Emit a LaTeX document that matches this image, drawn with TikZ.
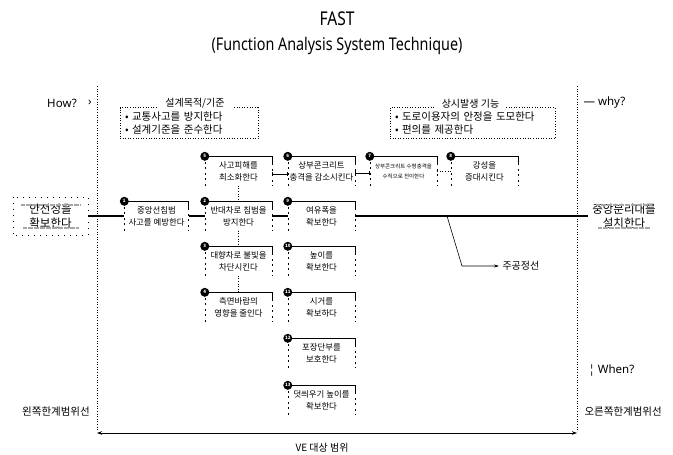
\documentclass[tikz,border=0pt]{standalone}
\usepackage{fontspec}
\setmainfont{Noto Sans CJK KR}
\newfontfamily\latf[FakeStretch=0.82]{Noto Sans}
\newfontfamily\latn{Noto Sans}
\usetikzlibrary{arrows.meta}
\tikzset{
  fn/.style={minimum width=67, minimum height=29, inner sep=0pt, align=center,
             font=\fontsize{8.4}{12}\selectfont},
  badge/.style={circle, fill=black, text=white, inner sep=0pt, minimum size=9pt,
             font=\fontsize{4.5}{5}\selectfont\bfseries},
  topedge/.style={line width=0.7pt},
  sideedge/.style={line width=0.5pt, dash pattern=on 2pt off 3.5pt},
  mainline/.style={line width=2.6pt},
  dotcon/.style={line width=0.6pt, dotted},
  guide/.style={line width=0.6pt, dotted},
  infobox/.style={draw, line width=0.6pt, dotted, minimum height=31, inner xsep=5pt,
             align=left, font=\fontsize{10.5}{13}\selectfont},
  boxtitle/.style={fill=white, inner xsep=7pt, inner ysep=1pt, font=\fontsize{10}{12}\selectfont},
  endnode/.style={inner sep=0pt, minimum height=28, align=center,
             font=\fontsize{11.5}{13.5}\selectfont},
  label/.style={font=\fontsize{10.5}{12}\selectfont},
  latlabel/.style={font=\latn\fontsize{11.5}{13}\selectfont}
}
\newcommand\fastdeco[2]{%
  \draw[topedge] (#1.north west) -- (#1.north east) -- ++(0,7);
  \draw[sideedge] (#1.north west) -- (#1.south west);
  \draw[sideedge] ([yshift=-7pt]#1.north east) -- (#1.south east);
  \node[badge] at (#1.north west) {#2};
}
\begin{document}
\begin{tikzpicture}[x=1pt,y=-1pt]
\useasboundingbox (0,0) rectangle (673,455);

% titles
\node[font=\latf\fontsize{19}{21}\selectfont] (title) at (337,19) {FAST};
\node[font=\latf\fontsize{17.5}{20}\selectfont] (subtitle) at (337,46) {(Function Analysis System Technique)};

% guide lines
\coordinate (gl1) at (97,86);
\coordinate (gl2) at (97,430);
\coordinate (gr1) at (577,86);
\coordinate (gr2) at (577,430);
\draw[guide] (gl1) -- (gl2);
\draw[guide] (gr1) -- (gr2);

% side labels
\node[latlabel] (how) at (62,103) {How?};
\node[latlabel] (howarr) at (90,103) {›};
\node[latlabel, anchor=west] (why) at (580,103) {— why?};
\node[latlabel, anchor=west] (when) at (585,371) {¦ When?};
\node[label] (lline) at (56,412) {왼쪽한계범위선};
\node[label, anchor=west] (rline) at (581,412) {오른쪽한계범위선};

% info boxes
\node[infobox, text width=128] (bx1) at (189,123) {• 교통사고를 방지한다\\• 설계기준을 준수한다};
\node[boxtitle, anchor=south] (bt1) at ([xshift=6pt,yshift=-2pt]bx1.north) {설계목적/기준};
\node[infobox, text width=155] (bx2) at (472.5,123) {• 도로이용자의 안정을 도모한다\\• 편의를 제공한다};
\node[boxtitle, anchor=south] (bt2) at ([xshift=-2pt,yshift=-2pt]bx2.north) {상시발생 기능};

% end nodes
\node[endnode, minimum width=75] (L) at (50.5,216) {안전성을\\확보한다};
\node[endnode, minimum width=72] (R) at (624,216) {중앙분리대를\\설치한다};
\foreach \n in {L,R}{
  \draw[gray!70, line width=2pt, dash pattern=on 0.6pt off 0.6pt]
    ([xshift=8pt,yshift=-3pt]\n.north west) -- ([xshift=-8pt,yshift=-3pt]\n.north east);
  \draw[gray!70, line width=2pt, dash pattern=on 0.6pt off 0.6pt]
    ([xshift=10pt,yshift=2pt]\n.south west) -- ([xshift=-10pt,yshift=2pt]\n.south east);
}
\draw[line width=0.5pt, dash pattern=on 1pt off 5pt] ([yshift=5pt]L.north west) rectangle ([yshift=-5pt]L.south east);

% function nodes
\node[fn, minimum width=64] (n1) at (156.5,216) {중앙선침범\\사고를 예방한다};
\node[fn] (n2) at (238.5,216) {반대차로 침범을\\방지한다};
\node[fn] (n3) at (238.5,261) {대향차로 불빛을\\차단시킨다};
\node[fn] (n4) at (238.5,307) {측면바람의\\영향을 줄인다};
\node[fn] (n5) at (238.5,171) {사고피해를\\최소화한다};
\node[fn] (n6) at (321.5,171) {상부콘크리트\\충격을 감소시킨다};
\node[fn, font=\fontsize{5.5}{10}\selectfont] (n7) at (403.5,171) {상부콘크리트 수평충격을\\수직으로 전이한다};
\node[fn] (n8) at (484.5,171) {강성을\\증대시킨다};
\node[fn] (n9) at (321.5,216) {여유폭을\\확보한다};
\node[fn] (n10) at (321.5,261) {높이를\\확보한다};
\node[fn] (n11) at (321.5,307) {시거를\\확보하다};
\node[fn] (n12) at (321.5,353) {포장단부를\\보호한다};
\node[fn] (n13) at (321.5,400) {덧씌우기 높이를\\확보한다};

% main line
\draw[mainline] (L.east) -- (n1.west);
\draw[mainline] (n1.east) -- (n2.west);
\draw[mainline] (n2.east) -- (n9.west);
\draw[mainline] (n9.east) -- (R.west);

% node decorations
\fastdeco{n1}{1}
\fastdeco{n2}{2}
\fastdeco{n3}{3}
\fastdeco{n4}{4}
\fastdeco{n5}{5}
\fastdeco{n6}{6}
\fastdeco{n7}{7}
\fastdeco{n8}{8}
\fastdeco{n9}{9}
\fastdeco{n10}{10}
\fastdeco{n11}{11}
\fastdeco{n12}{12}
\fastdeco{n13}{13}

% secondary connectors
\draw[dotcon] (n5.south) -- (n2.north);
\draw[dotcon] (n2.south) -- (n3.north);
\draw[dotcon, -{Bar[width=5pt]}] (n3.south) -- (n4.north);
\draw[line width=0.6pt, {Bar[width=4pt]}-{Bar[width=4pt]}] ([yshift=-3pt]n5.east) -- ([yshift=-3pt]n6.west);
\draw[line width=0.6pt, {Bar[width=4pt]}-{Bar[width=4pt]}] ([yshift=-2pt]n6.east) -- ([yshift=-2pt]n7.west);
\draw[dotcon] (n7.east) -- (n8.west);

% critical path label
\coordinate (cpa) at (447,216);
\coordinate (cpb) at (462,266);
\node[label, font=\fontsize{10}{11}\selectfont, anchor=west] (cpl) at (499,266) {주공정선};
\draw[line width=0.6pt, -{Stealth[length=5pt,width=3pt]}] (cpa) -- (cpb) -- (cpl.west);

% VE range
\coordinate (vl) at (97,433);
\coordinate (vr) at (577,433);
\draw[line width=0.8pt, {Stealth[length=5pt,width=3.5pt]}-{Stealth[length=5pt,width=3.5pt]}] (vl) -- (vr);
\node[label, font=\fontsize{10}{11}\selectfont] (ve) at (322,448) {VE 대상 범위};
\end{tikzpicture}
\end{document}
